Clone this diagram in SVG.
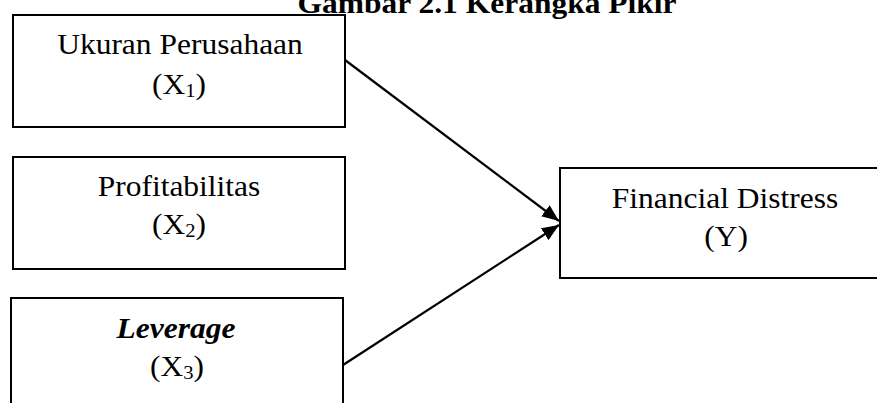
<svg xmlns="http://www.w3.org/2000/svg" width="877" height="403" viewBox="0 0 877 403">
<defs>
<style>
.box{fill:#fff;stroke:#000;stroke-width:2}
.t{font-family:"Liberation Serif","Times New Roman",serif;font-size:29px;fill:#000;text-anchor:middle}
.b{font-weight:bold}
.bi{font-weight:bold;font-style:italic}
.sub{font-size:19px}
.conn{stroke:#000;stroke-width:2.2;fill:none}
</style>
<marker id="ah" markerWidth="18" markerHeight="14" refX="17" refY="7" orient="auto" markerUnits="userSpaceOnUse">
<path d="M0,0 L17,7 L0,14 Z" fill="#000"/>
</marker>
</defs>
<rect width="877" height="403" fill="#fff"/>
<g id="title">
<text class="t b" transform="translate(487,13) scale(1.086,1)" x="0" y="0">Gambar 2.1 Kerangka Pikir</text>
</g>
<g id="connectors">
<line class="conn" x1="345" y1="60" x2="559" y2="221" marker-end="url(#ah)"/>
<line class="conn" x1="343" y1="365" x2="559" y2="225" marker-end="url(#ah)"/>
</g>
<g id="x1">
<rect class="box" x="13" y="15" width="332" height="112"/>
<text class="t" transform="translate(180,54) scale(1.086,1)" x="0" y="0">Ukuran Perusahaan</text>
<text class="t" transform="translate(179,94) scale(1.086,1)" x="0" y="0">(X<tspan class="sub" dy="3">1</tspan><tspan dy="-3">)</tspan></text>
</g>
<g id="x2">
<rect class="box" x="13" y="157" width="332" height="112"/>
<text class="t" transform="translate(179,196) scale(1.086,1)" x="0" y="0">Profitabilitas</text>
<text class="t" transform="translate(179,234) scale(1.086,1)" x="0" y="0">(X<tspan class="sub" dy="3">2</tspan><tspan dy="-3">)</tspan></text>
</g>
<g id="x3">
<rect class="box" x="11" y="298" width="332" height="130"/>
<text class="t bi" transform="translate(176,338) scale(1.086,1)" x="0" y="0">Leverage</text>
<text class="t" transform="translate(177,376) scale(1.086,1)" x="0" y="0">(X<tspan class="sub" dy="3">3</tspan><tspan dy="-3">)</tspan></text>
</g>
<g id="y">
<rect class="box" x="560" y="168" width="340" height="110"/>
<text class="t" transform="translate(725,208) scale(1.086,1)" x="0" y="0">Financial Distress</text>
<text class="t" transform="translate(726,246) scale(1.086,1)" x="0" y="0">(Y)</text>
</g>
</svg>
